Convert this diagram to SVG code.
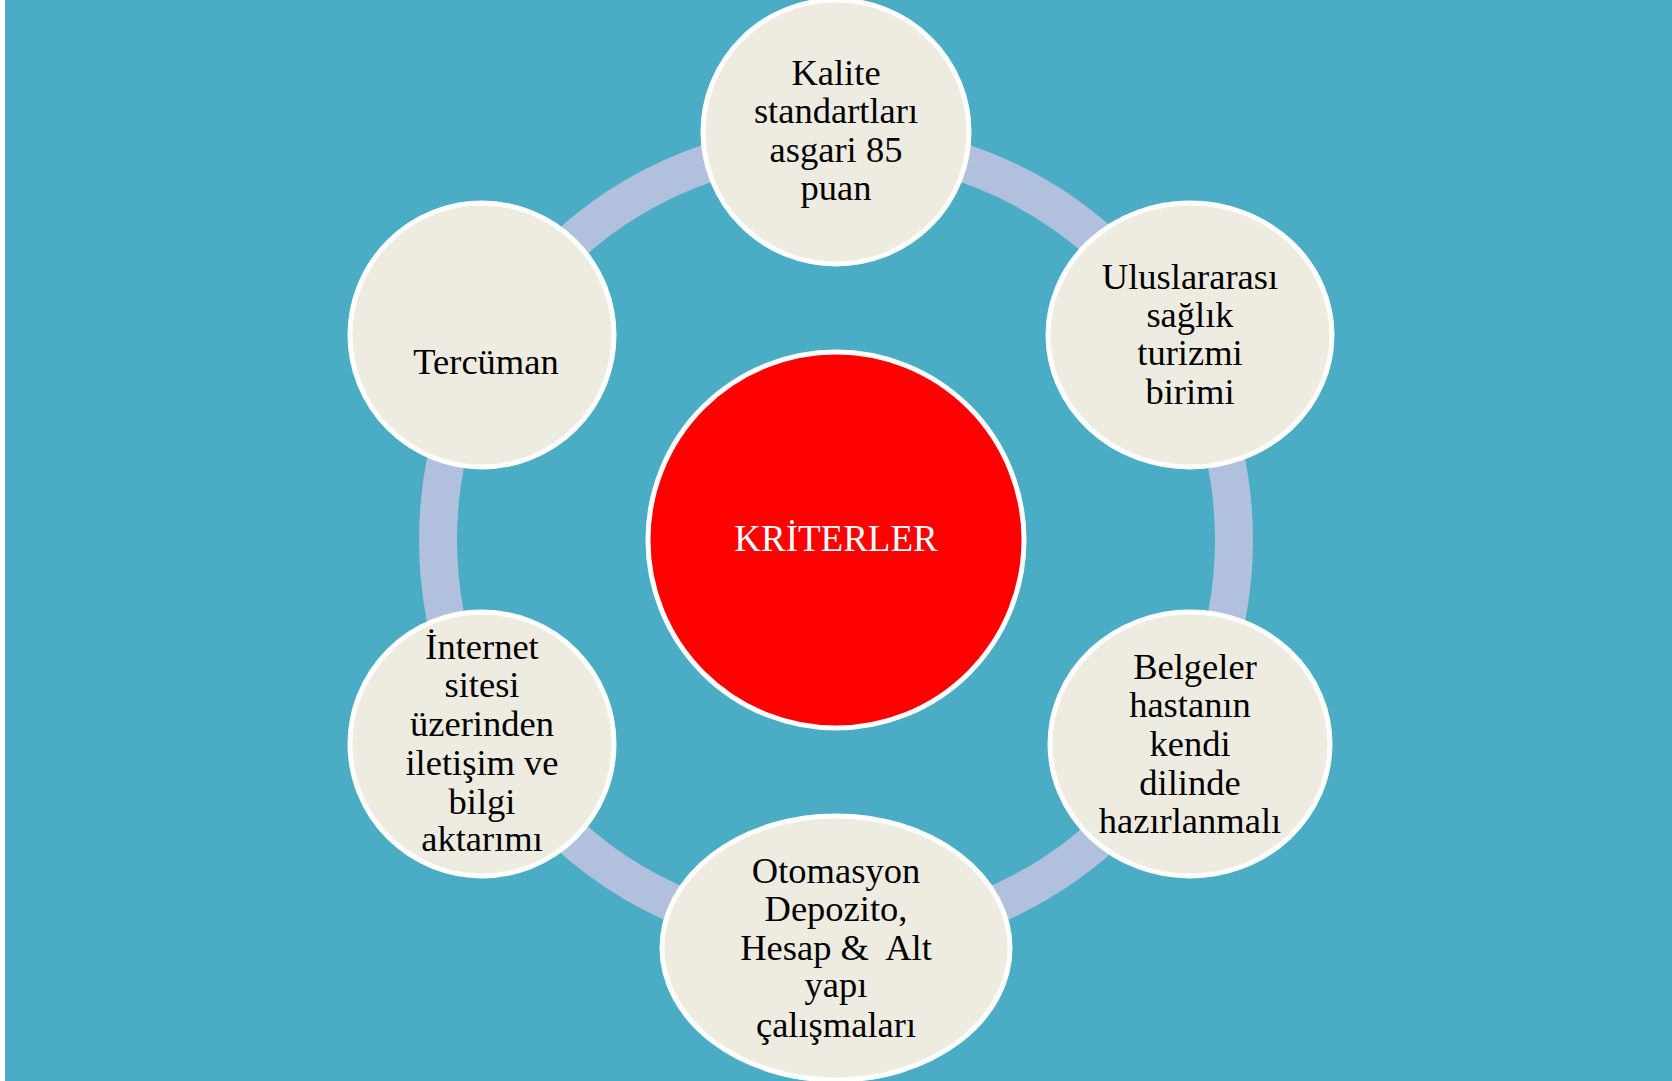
<svg xmlns="http://www.w3.org/2000/svg" width="1672" height="1081" viewBox="0 0 1672 1081">
<style>
.node{fill:#EEECE1;stroke:#FFFFFF;stroke-width:5}
.t{font-family:"Liberation Serif","Times New Roman",serif;font-size:36.5px;fill:#000000;text-anchor:middle}
.c{font-family:"Liberation Serif","Times New Roman",serif;font-size:37px;fill:#FFFFFF;text-anchor:middle}
</style>
<rect x="0" y="0" width="1672" height="1081" fill="#FFFFFF"/>
<rect x="5" y="0" width="1667" height="1081" fill="#4BACC6"/>
<g id="connectors">
<circle cx="836" cy="540" r="398" fill="none" stroke="#B1C1DD" stroke-width="38"/>
</g>
<g id="center">
<circle cx="836" cy="540" r="188" fill="#FF0000" stroke="#FFFFFF" stroke-width="5"/>
<text class="c" x="836" y="551">KRİTERLER</text>
</g>
<g id="node-top">
<ellipse class="node" cx="836" cy="132" rx="133" ry="132"/>
<text class="t"><tspan x="836" y="85">Kalite</tspan><tspan x="836" y="123">standartları</tspan><tspan x="836" y="161.5">asgari 85</tspan><tspan x="836" y="200">puan</tspan></text>
</g>
<g id="node-upper-right">
<ellipse class="node" cx="1190" cy="335" rx="142" ry="132"/>
<text class="t"><tspan x="1190" y="288.5">Uluslararası</tspan><tspan x="1190" y="327">sağlık</tspan><tspan x="1190" y="365">turizmi</tspan><tspan x="1190" y="403.5">birimi</tspan></text>
</g>
<g id="node-lower-right">
<ellipse class="node" cx="1190" cy="744" rx="140" ry="132"/>
<text class="t"><tspan x="1195" y="679">Belgeler</tspan><tspan x="1190" y="717">hastanın</tspan><tspan x="1190" y="756">kendi</tspan><tspan x="1190" y="794.5">dilinde</tspan><tspan x="1190" y="832.5">hazırlanmalı</tspan></text>
</g>
<g id="node-bottom">
<ellipse class="node" cx="836" cy="948" rx="174" ry="132"/>
<text class="t" xml:space="preserve"><tspan x="836" y="882.5">Otomasyon</tspan><tspan x="836" y="921">Depozito,</tspan><tspan x="836" y="959.5">Hesap &amp;  Alt</tspan><tspan x="836" y="997">yapı</tspan><tspan x="836" y="1036.5">çalışmaları</tspan></text>
</g>
<g id="node-lower-left">
<ellipse class="node" cx="482" cy="744" rx="132" ry="132"/>
<text class="t"><tspan x="482" y="658.5">İnternet</tspan><tspan x="482" y="697">sitesi</tspan><tspan x="482" y="736">üzerinden</tspan><tspan x="482" y="775">iletişim ve</tspan><tspan x="482" y="813.5">bilgi</tspan><tspan x="482" y="851">aktarımı</tspan></text>
</g>
<g id="node-upper-left">
<ellipse class="node" cx="482" cy="335" rx="132" ry="132"/>
<text class="t"><tspan x="486" y="373.5">Tercüman</tspan></text>
</g>
</svg>
